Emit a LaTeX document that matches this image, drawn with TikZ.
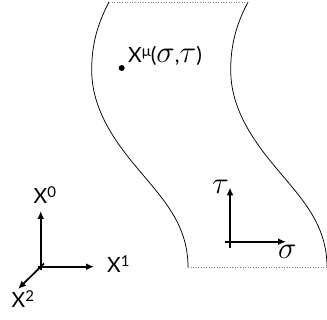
\documentclass[tikz,border=0pt]{standalone}
\usepackage{fontspec}
\usepackage{graphicx}
\setmainfont{Lato}
\usetikzlibrary{arrows.meta}
\newcommand{\gsig}{\scalebox{1.5}{$\sigma$}}
\newcommand{\gtau}{\scalebox{1.5}{$\tau$}}
\newcommand{\sups}[1]{\raisebox{6.5pt}{\fontsize{15}{15}\selectfont #1}}
\begin{document}
\begin{tikzpicture}[x=1pt,y=-1pt,
  lbl/.style={inner sep=0pt,font=\fontsize{21}{23}\selectfont},
  axis/.style={line width=1.7pt,-{Latex[length=8pt,width=7pt]}},
  edge/.style={line width=0.75pt},
  rim/.style={gray,dotted,line width=0.6pt}]
\useasboundingbox (0,0) rectangle (327,320);
\begin{scope}
\clip (0,0) rectangle (327,320);
\foreach \dx in {0,139}{
\draw[edge,xshift=\dx] (109,2) .. controls (97,25) and (91.7,45) .. (91.7,70)
  .. controls (91.7,105) and (110,135) .. (133,163)
  .. controls (160,196) and (188,222) .. (188,267);
}
\draw[rim] (109,2) -- (248,2);
\draw[rim] (188,267) -- (327,267);
\end{scope}
% point on worldsheet
\fill (121.7,68) circle (3pt) coordinate (p);
\node[lbl,anchor=base west] (xmu) at (128,63) {X\sups{μ}(\gsig,\gtau)};
% target space axes
\coordinate (o) at (40.7,266.7);
\coordinate (o0) at (40.7,270);
\coordinate (o1) at (37.5,266.7);
\coordinate (o2) at (44,263.5);
\coordinate (t0) at (40.7,211);
\coordinate (t1) at (94,266.7);
\coordinate (t2) at (18,289);
\draw[axis] (o0) -- (t0);
\draw[axis] (o1) -- (t1);
\draw[axis] (o2) -- (t2);
\node[lbl,anchor=base west] (x0) at (33.5,204) {X\sups{0}};
\node[lbl,anchor=base west] (x1) at (107,273) {X\sups{1}};
\node[lbl,anchor=base west] (x2) at (11.5,308) {X\sups{2}};
% worldsheet axes
\coordinate (s) at (230,241.7);
\coordinate (s0) at (230,248.5);
\coordinate (s1) at (224.5,241.7);
\coordinate (st) at (230,187.5);
\coordinate (ss) at (286,241.7);
\draw[axis] (s0) -- (st);
\draw[axis] (s1) -- (ss);
\node[lbl,anchor=base west] (tau) at (212,194) {\gtau};
\node[lbl,anchor=base west] (sig) at (278,259) {\gsig};
\end{tikzpicture}
\end{document}
